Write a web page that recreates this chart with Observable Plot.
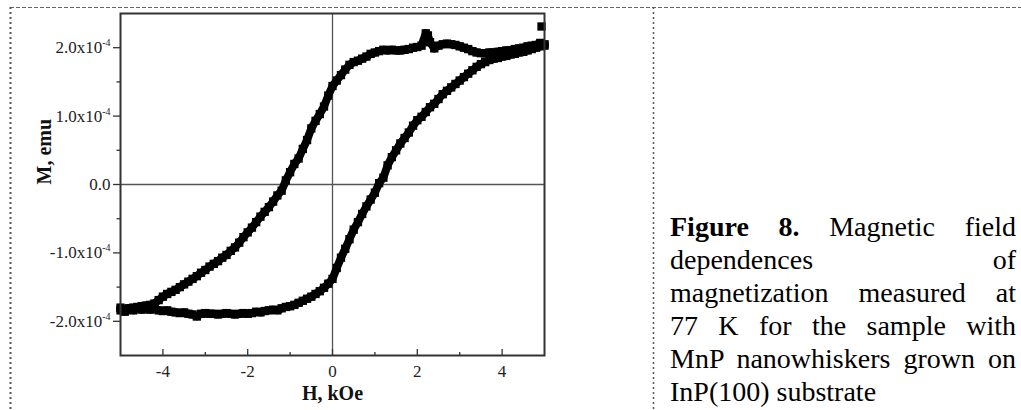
<!DOCTYPE html>
<html>
<head>
<meta charset="utf-8">
<script src="https://cdn.jsdelivr.net/npm/d3@7"></script>
<script src="https://cdn.jsdelivr.net/npm/@observablehq/plot@0.6"></script>
<style>
  html, body { margin: 0; padding: 0; background: #fff; }
  body { width: 1021px; height: 410px; position: relative; overflow: hidden; font-family: "Liberation Serif", "Times New Roman", serif; }
  #chart { position: absolute; left: 0; top: 0; }
  #borders { position: absolute; left: 0; top: 0; pointer-events: none; }
  #caption { position: absolute; left: 670px; top: 210px; width: 346px; font-size: 28px; line-height: 33px; color: #000; }
  #caption .ln { text-align: justify; text-align-last: justify; white-space: nowrap; }
  #caption .last { text-align: left; text-align-last: left; white-space: nowrap; }
</style>
</head>
<body>
<div id="chart"></div>
<svg id="borders" width="1021" height="410">
  <line x1="10" y1="7.5" x2="1021" y2="7.5" stroke="#666" stroke-width="1" stroke-dasharray="4,2"></line>
  <line x1="10.5" y1="7" x2="10.5" y2="410" stroke="#555" stroke-width="2" stroke-dasharray="2,3"></line>
  <line x1="653.5" y1="7" x2="653.5" y2="410" stroke="#555" stroke-width="1.5" stroke-dasharray="2,3"></line>
</svg>
<div id="caption">
  <div class="ln"><b>Figure 8.</b> Magnetic field</div>
  <div class="ln">dependences of</div>
  <div class="ln">magnetization measured at</div>
  <div class="ln">77 K for the sample with</div>
  <div class="ln">MnP nanowhiskers grown on</div>
  <div class="last">InP(100) substrate</div>
</div>
<script>
// Field H (kOe) and magnetization M (units of 1e-4 emu)
// Descending branch (H from +5 to -5)
const downH = [5.0,4.9,4.8,4.7,4.6,4.5,4.4,4.3,4.2,4.1,4.0,3.9,3.8,3.7,3.6,3.5,3.4,3.3,3.2,3.1,3.0,2.9,2.8,2.7,2.6,2.5,2.4,2.3,2.25,2.2,2.1,2.0,1.9,1.8,1.7,1.6,1.5,1.4,1.3,1.2,1.1,1.0,0.9,0.8,0.7,0.6,0.5,0.4,0.3,0.2,0.1,0.0,-0.1,-0.2,-0.3,-0.4,-0.5,-0.6,-0.7,-0.8,-0.9,-1.0,-1.1,-1.2,-1.3,-1.4,-1.5,-1.6,-1.7,-1.8,-1.9,-2.0,-2.1,-2.2,-2.3,-2.4,-2.5,-2.6,-2.7,-2.8,-2.9,-3.0,-3.1,-3.2,-3.3,-3.4,-3.5,-3.6,-3.7,-3.8,-3.9,-4.0,-4.1,-4.2,-4.3,-4.4,-4.5,-4.6,-4.7,-4.8,-4.9,-5.0];
const downM = [2.05,2.07,2.04,2.03,2.02,2.00,1.99,1.98,1.96,1.96,1.95,1.94,1.93,1.93,1.92,1.92,1.93,1.95,1.98,2.00,2.02,2.04,2.05,2.06,2.05,2.03,1.99,2.08,2.18,2.21,2.03,2.01,2.00,1.98,1.97,1.96,1.96,1.97,1.96,1.97,1.95,1.93,1.91,1.87,1.84,1.81,1.79,1.75,1.68,1.60,1.52,1.44,1.30,1.14,1.03,0.93,0.82,0.65,0.52,0.38,0.30,0.18,0.06,-0.09,-0.16,-0.25,-0.33,-0.40,-0.47,-0.55,-0.63,-0.70,-0.77,-0.85,-0.92,-0.97,-1.03,-1.07,-1.12,-1.16,-1.20,-1.25,-1.29,-1.34,-1.38,-1.42,-1.46,-1.50,-1.54,-1.57,-1.60,-1.64,-1.69,-1.74,-1.76,-1.77,-1.78,-1.79,-1.80,-1.81,-1.82,-1.84];
// Ascending branch (H from -5 to +5)
const upH = [-5.0,-4.9,-4.8,-4.7,-4.6,-4.5,-4.4,-4.3,-4.2,-4.1,-4.0,-3.9,-3.8,-3.7,-3.6,-3.5,-3.4,-3.3,-3.2,-3.1,-3.0,-2.9,-2.8,-2.7,-2.6,-2.5,-2.4,-2.3,-2.2,-2.1,-2.0,-1.9,-1.8,-1.7,-1.6,-1.5,-1.4,-1.3,-1.2,-1.1,-1.0,-0.9,-0.8,-0.7,-0.6,-0.5,-0.4,-0.3,-0.2,-0.1,0.0,0.1,0.2,0.3,0.4,0.5,0.6,0.7,0.8,0.9,1.0,1.1,1.2,1.3,1.4,1.5,1.6,1.7,1.8,1.9,2.0,2.1,2.2,2.3,2.4,2.5,2.6,2.7,2.8,2.9,3.0,3.1,3.2,3.3,3.4,3.5,3.6,3.7,3.8,3.9,4.0,4.1,4.2,4.3,4.4,4.5,4.6,4.7,4.8,4.9,5.0];
const upM = [-1.80,-1.86,-1.82,-1.84,-1.81,-1.83,-1.80,-1.83,-1.81,-1.84,-1.85,-1.84,-1.86,-1.87,-1.88,-1.87,-1.89,-1.90,-1.93,-1.89,-1.88,-1.89,-1.89,-1.90,-1.89,-1.88,-1.89,-1.90,-1.89,-1.88,-1.89,-1.88,-1.86,-1.87,-1.85,-1.84,-1.83,-1.84,-1.81,-1.79,-1.78,-1.76,-1.73,-1.70,-1.67,-1.64,-1.60,-1.56,-1.51,-1.45,-1.38,-1.22,-1.07,-0.94,-0.80,-0.66,-0.55,-0.43,-0.32,-0.22,-0.12,0.02,0.10,0.28,0.40,0.50,0.60,0.68,0.76,0.86,0.94,0.99,1.06,1.13,1.18,1.25,1.32,1.37,1.42,1.47,1.52,1.57,1.62,1.67,1.72,1.76,1.79,1.82,1.84,1.85,1.87,1.88,1.90,1.91,1.93,1.94,1.96,1.98,2.00,2.02,2.03];
// Isolated point near the upper right corner
const strayH = [4.93];
const strayM = [2.31];

// Axis ticks and labels
const xMajor = [-4, -2, 0, 2, 4];
const xMinor = [-3, -1, 1, 3];
const yMajor = [-2, -1, 0, 1, 2];
const yMinor = [-1.5, -0.5, 0.5, 1.5];
const yTickText = ["-2.0x10", "-1.0x10", "0.0", "1.0x10", "2.0x10"];
const yTickExp = ["-4", "-4", "", "-4", "-4"];
const xLabel = "H, kOe";
const yLabel = "M, emu";

const down = downH.map((h, i) => ({h, m: downM[i]}));
const up = upH.map((h, i) => ({h, m: upM[i]}));
const stray = strayH.map((h, i) => ({h, m: strayM[i]}));
const allPts = down.concat(up, stray);

const plotH = 410 - 13 - 55;

const svg = Plot.plot({
  width: 600,
  height: 410,
  marginLeft: 120,
  marginRight: 56,
  marginTop: 13,
  marginBottom: 55,
  x: {domain: [-5, 5]},
  y: {domain: [-2.5, 2.5]},
  style: {fontFamily: "'Liberation Serif', 'Times New Roman', serif", background: "transparent", color: "#222", overflow: "visible"},
  marks: [
    Plot.ruleX([0], {stroke: "#555", strokeWidth: 1.3}),
    Plot.ruleY([0], {stroke: "#555", strokeWidth: 1.3}),
    Plot.axisY({ticks: yMajor, tickSize: 7, tickPadding: 3, fontSize: 17, stroke: "#333", strokeWidth: 1.3, label: null,
      tickFormat: d => yTickText[yMajor.indexOf(d)]}),
    Plot.axisY({ticks: yMinor, tickSize: 3.5, stroke: "#333", strokeWidth: 1.3, label: null, tickFormat: () => ""}),
    Plot.axisX({ticks: xMajor, tickSize: 0, tickPadding: 9.5, fontSize: 17, label: null, tickFormat: d => String(d)}),
    Plot.ruleX(xMajor, {x: d => d, insetTop: plotH - 6, stroke: "#333", strokeWidth: 1.3}),
    Plot.ruleX(xMinor, {x: d => d, insetTop: plotH - 3, stroke: "#333", strokeWidth: 1.3}),
    Plot.line(down, {x: "h", y: "m", stroke: "#000", strokeWidth: 8}),
    Plot.line(up, {x: "h", y: "m", stroke: "#000", strokeWidth: 8}),
    Plot.dot(allPts, {x: "h", y: "m", symbol: "square", r: 4.7, fill: "#000", stroke: "none"}),
    Plot.frame({stroke: "#333", strokeWidth: 2}),
    Plot.text([yLabel], {frameAnchor: "left", dx: -76, rotate: -90, fontWeight: "bold", fontSize: 20, fill: "#111"}),
    Plot.text([xLabel], {frameAnchor: "bottom", dy: 44, fontWeight: "bold", fontSize: 20, fill: "#111"})
  ]
});

// Superscript exponents on the y tick labels
d3.select(svg).selectAll('g[aria-label="y-axis tick label"] text').each(function () {
  const t = d3.select(this);
  const s = t.text();
  const i = yTickText.indexOf(s);
  if (i >= 0 && yTickExp[i]) {
    t.append("tspan").attr("dy", -7).attr("font-size", 10).text(yTickExp[i]);
  }
});

document.getElementById("chart").appendChild(svg);
</script>
</body>
</html>
